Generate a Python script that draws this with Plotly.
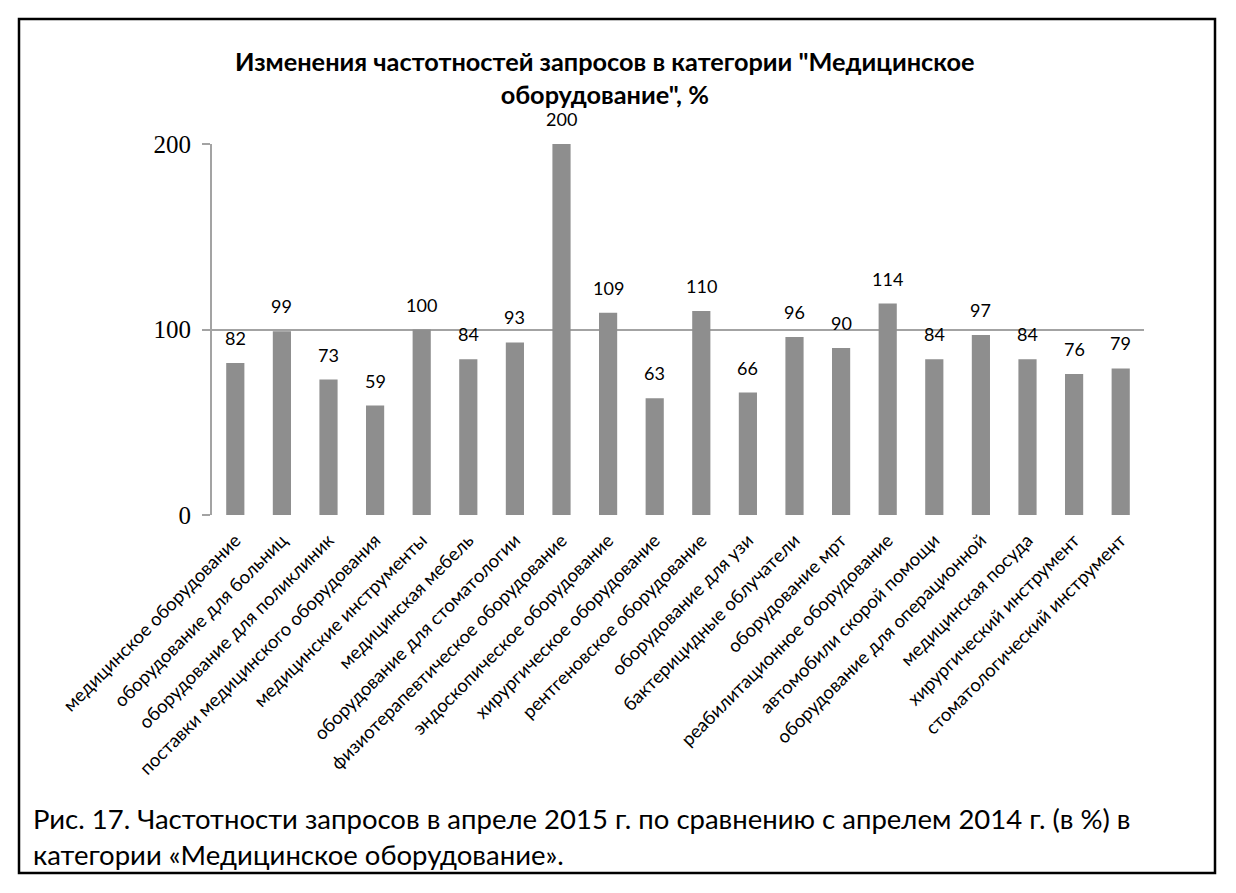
import plotly.graph_objects as go

categories = [
    "медицинское оборудование",
    "оборудование для больниц",
    "оборудование для поликлиник",
    "поставки медицинского оборудования",
    "медицинские инструменты",
    "медицинская мебель",
    "оборудование для стоматологии",
    "физиотерапевтическое оборудование",
    "эндоскопическое оборудование",
    "хирургическое оборудование",
    "рентгеновское оборудование",
    "оборудование для узи",
    "бактерицидные облучатели",
    "оборудование мрт",
    "реабилитационное оборудование",
    "автомобили скорой помощи",
    "оборудование для операционной",
    "медицинская посуда",
    "хирургический инструмент",
    "стоматологический инструмент",
]
values = [82, 99, 73, 59, 100, 84, 93, 200, 109, 63, 110, 66, 96, 90, 114, 84, 97, 84, 76, 79]
y_ticks = [0, 100, 200]

title_text = 'Изменения частотностей запросов в категории "Медицинское<br>оборудование", %'
caption_text = ("Рис. 17. Частотности запросов в апреле 2015 г. по сравнению с апрелем 2014 г. (в %) в<br>"
                "категории «Медицинское оборудование».")

OFF = 8  # page body margin
W, H = 1236 - 2 * OFF, 893 - 2 * OFF
sans = "Lato, 'Open Sans', sans-serif"


def px(x):
    return (x - OFF) / W


def py(y):
    return 1 - (y - OFF) / H


fig = go.Figure()
fig.add_trace(go.Bar(
    x=categories, y=values,
    marker=dict(color="#8e8e8e", line=dict(width=0)),
    width=0.39,
    hoverinfo="x+y",
))

for c, v in zip(categories, values):
    fig.add_annotation(x=c, y=v, text=str(v), showarrow=False,
                       yanchor="bottom", yshift=12,
                       font=dict(family=sans, size=18, color="#000"))

fig.add_annotation(xref="paper", yref="paper", x=px(605), y=py(77),
                   text="<b>" + title_text + "</b>", showarrow=False,
                   xanchor="center", yanchor="middle", align="center",
                   font=dict(family=sans, size=25.3, color="#000"))

fig.add_annotation(xref="paper", yref="paper", x=px(31), y=py(836),
                   text=caption_text, showarrow=False,
                   xanchor="left", yanchor="middle", align="left",
                   font=dict(family=sans, size=27.5, color="#000"))

fig.add_shape(type="rect", xref="paper", yref="paper",
              x0=px(19), x1=px(1215), y0=py(873), y1=py(19),
              line=dict(color="#000", width=2.5), fillcolor="rgba(0,0,0,0)")

fig.update_layout(
    width=W, height=H,
    margin=dict(l=0, r=0, t=0, b=0, autoexpand=False),
    paper_bgcolor="white", plot_bgcolor="white",
    showlegend=False,
    xaxis=dict(domain=[px(212), px(1144)], tickangle=-45,
               tickfont=dict(family=sans, size=18.5, color="#000"),
               showgrid=False, ticks="", showline=False, zeroline=False,
               ticklabelstandoff=10,
               anchor="y", automargin=False),
    yaxis=dict(domain=[py(515), py(144)], range=[0, 200],
               tickvals=y_ticks, ticktext=[str(t) for t in y_ticks],
               tickfont=dict(family="'Liberation Serif', serif", size=25, color="#000"),
               showgrid=True, gridcolor="#a3a3a3", gridwidth=2,
               showline=True, linecolor="#a3a3a3", linewidth=2,
               ticks="outside", ticklen=8, tickcolor="#a3a3a3", tickwidth=2,
               ticklabelstandoff=6,
               zeroline=False, automargin=False),
)

fig.write_html("out.html")
